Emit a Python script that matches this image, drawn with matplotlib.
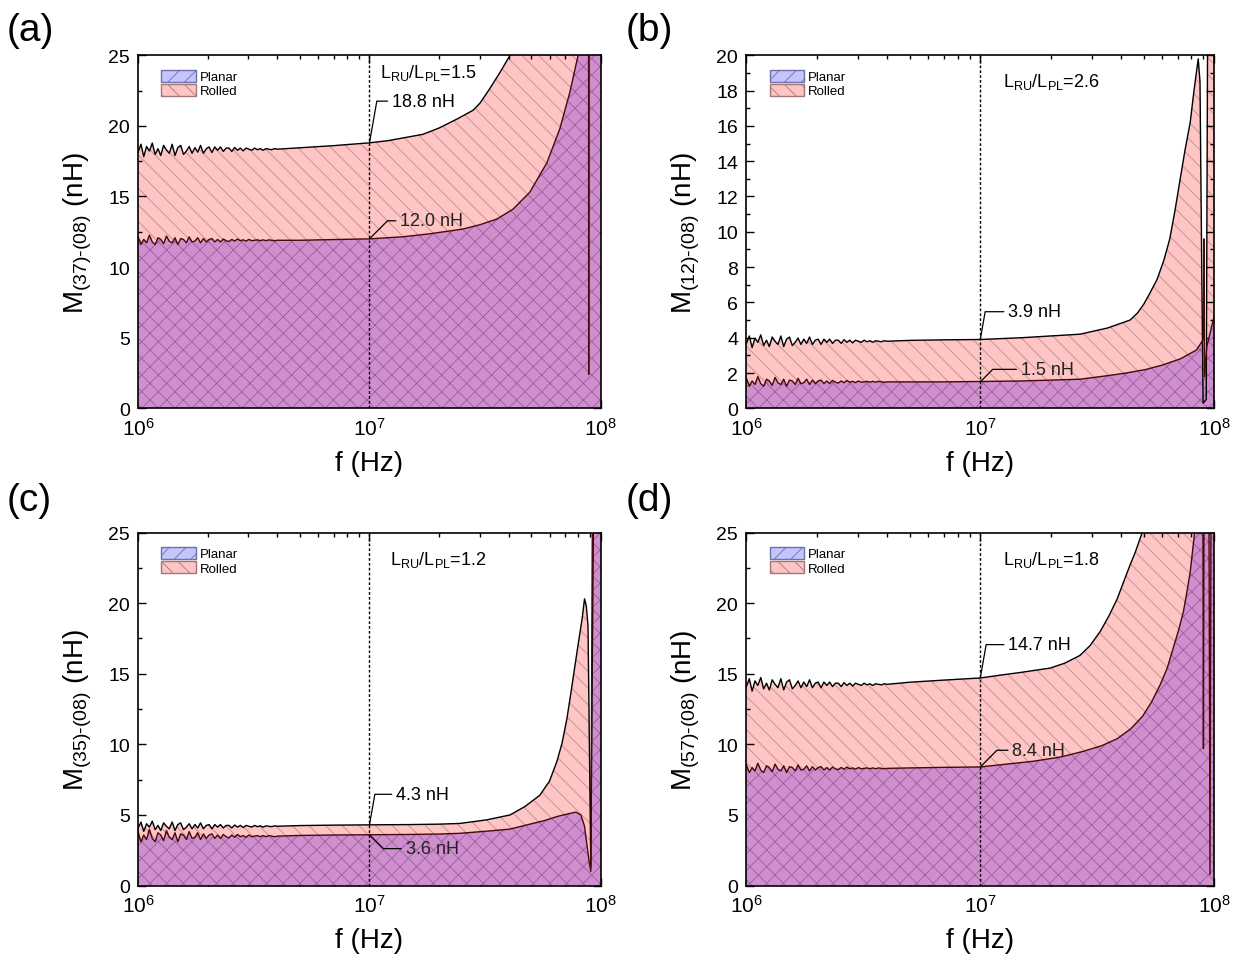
import matplotlib
matplotlib.use('Agg')
import matplotlib.pyplot as plt
from matplotlib.patches import Patch
from matplotlib.ticker import MultipleLocator, LogLocator, NullFormatter

plt.rcParams['font.family'] = ['Liberation Sans', 'DejaVu Sans']
plt.rcParams['mathtext.fontset'] = 'custom'
plt.rcParams['mathtext.rm'] = 'Liberation Sans'
plt.rcParams['mathtext.it'] = 'Liberation Sans:italic'
plt.rcParams['mathtext.default'] = 'regular'
plt.rcParams['hatch.linewidth'] = 0.6

# frequencies (MHz) of the noisy low-frequency part, shared by all curves
f_noise = [1.000, 1.029, 1.058, 1.088, 1.119, 1.152, 1.185, 1.219, 1.253, 1.289,
           1.326, 1.364, 1.404, 1.444, 1.485, 1.528, 1.572, 1.617, 1.663, 1.711,
           1.760, 1.810, 1.862, 1.916, 1.971, 2.027, 2.085, 2.145, 2.207, 2.270,
           2.335, 2.402, 2.471, 2.542, 2.615, 2.690, 2.767, 2.846, 2.928, 3.012,
           3.099, 3.187, 3.279, 3.373, 3.470, 3.569, 3.672, 3.777, 3.885, 3.997]

# (a) M(37)-(08)
a_rolled_noise = [18.14, 18.70, 17.82, 18.54, 18.22, 18.78, 17.98, 18.38, 17.90, 18.62,
                  18.30, 18.06, 18.70, 17.90, 18.46, 18.62, 17.98, 18.22, 18.54, 18.06,
                  18.46, 18.14, 18.62, 18.06, 18.38, 18.51, 18.11, 18.51, 18.27, 18.51,
                  18.19, 18.43, 18.43, 18.19, 18.47, 18.27, 18.43, 18.23, 18.43, 18.35,
                  18.27, 18.43, 18.31, 18.39, 18.27, 18.39, 18.35, 18.31, 18.39, 18.35]
a_rolled_f = [5, 7, 10, 12, 14, 17, 20, 24, 28, 30, 33, 36.7, 40.5, 46, 60, 100]
a_rolled_m = [18.45, 18.6, 18.8, 18.95, 19.15, 19.4, 19.85, 20.5, 21.1, 21.6, 22.6, 23.8, 25.0, 27, 31, 40]
a_planar_noise = [12.14, 11.60, 11.96, 11.72, 12.26, 11.78, 11.60, 12.08, 11.96, 11.66,
                  12.20, 11.84, 11.72, 12.08, 11.60, 12.02, 11.96, 11.72, 12.14, 11.78,
                  11.84, 12.08, 11.72, 12.02, 11.78, 11.96, 12.02, 11.78, 11.96, 11.78,
                  11.99, 11.87, 11.81, 11.96, 11.84, 11.99, 11.87, 11.93, 11.84, 11.96,
                  11.87, 11.90, 11.93, 11.87, 11.93, 11.87, 11.93, 11.90, 11.87, 11.90]
a_planar_f = [5, 7, 10, 14, 18, 22, 25.4, 30, 35.5, 41.7, 49.3, 58.5, 66.5, 73.5, 79.5,
              85, 88.5, 88.6, 88.8, 100]
a_planar_m = [11.9, 11.95, 12.0, 12.15, 12.35, 12.55, 12.7, 13.0, 13.4, 14.1, 15.3, 17.4, 19.8, 22.4, 24.9,
              28, 30, 2.4, 30, 30]

# (b) M(12)-(08)
b_rolled_noise = [3.68, 4.10, 3.44, 3.98, 3.74, 4.16, 3.56, 3.86, 3.50, 4.04,
                  3.80, 3.62, 4.10, 3.50, 3.92, 4.04, 3.56, 3.74, 3.98, 3.62,
                  3.92, 3.68, 4.04, 3.62, 3.86, 3.92, 3.62, 3.92, 3.74, 3.92,
                  3.68, 3.86, 3.86, 3.68, 3.89, 3.74, 3.86, 3.71, 3.86, 3.80,
                  3.74, 3.86, 3.77, 3.83, 3.74, 3.83, 3.80, 3.77, 3.83, 3.80]
b_rolled_f = [5, 7, 10, 15, 20, 26.7, 35, 43.7, 47, 50, 53, 57, 61, 64.6, 68, 71.6, 75, 79, 82, 85.5,
              87, 88.5, 89.7, 92.5, 94, 100]
b_rolled_m = [3.85, 3.88, 3.9, 4.0, 4.1, 4.2, 4.55, 5.0, 5.4, 5.9, 6.5, 7.3, 8.4, 9.6, 11.2, 13.0, 14.6, 16.2, 18.0, 19.8,
              18.5, 8.0, 0.3, 0.5, 25, 25]
b_planar_noise = [1.70, 1.25, 1.55, 1.35, 1.80, 1.40, 1.25, 1.65, 1.55, 1.30,
                  1.75, 1.45, 1.35, 1.65, 1.25, 1.60, 1.55, 1.35, 1.70, 1.40,
                  1.45, 1.65, 1.35, 1.60, 1.40, 1.55, 1.60, 1.40, 1.55, 1.40,
                  1.58, 1.48, 1.43, 1.55, 1.45, 1.58, 1.48, 1.53, 1.45, 1.55,
                  1.48, 1.50, 1.53, 1.48, 1.53, 1.48, 1.53, 1.50, 1.48, 1.50]
b_planar_f = [5, 7, 10, 15, 20, 26.7, 35, 42, 51, 60, 71.6, 84, 89.8, 90.5, 91, 93, 100]
b_planar_m = [1.5, 1.5, 1.52, 1.55, 1.6, 1.65, 1.85, 2.0, 2.2, 2.45, 2.8, 3.3, 3.9, 9.6, 1.8, 3.5, 5.2]

# (c) M(35)-(08)
c_rolled_noise = [4.08, 4.50, 3.84, 4.38, 4.14, 4.56, 3.96, 4.26, 3.90, 4.44,
                  4.20, 4.02, 4.50, 3.90, 4.32, 4.44, 3.96, 4.14, 4.38, 4.02,
                  4.32, 4.08, 4.44, 4.02, 4.26, 4.32, 4.02, 4.32, 4.14, 4.32,
                  4.08, 4.26, 4.26, 4.08, 4.29, 4.14, 4.26, 4.11, 4.26, 4.20,
                  4.14, 4.26, 4.17, 4.23, 4.14, 4.23, 4.20, 4.17, 4.23, 4.20]
c_rolled_f = [5, 7, 10, 15, 20, 24.6, 32, 40.5, 47, 54.5, 60, 64.6, 68, 71.3, 74, 77, 80, 83, 85,
              86.5, 88, 90.5, 93, 100]
c_rolled_m = [4.25, 4.28, 4.3, 4.32, 4.35, 4.4, 4.65, 5.0, 5.6, 6.4, 7.4, 8.8, 10.1, 11.8, 13.5, 15.4, 17.2, 18.9, 20.3,
              19.8, 18.4, 1.3, 28, 28]
c_planar_noise = [3.82, 3.10, 3.58, 3.26, 3.98, 3.34, 3.10, 3.74, 3.58, 3.18,
                  3.90, 3.42, 3.26, 3.74, 3.10, 3.66, 3.58, 3.26, 3.82, 3.34,
                  3.42, 3.74, 3.26, 3.66, 3.34, 3.58, 3.66, 3.34, 3.58, 3.34,
                  3.62, 3.46, 3.38, 3.58, 3.42, 3.62, 3.46, 3.54, 3.42, 3.58,
                  3.46, 3.50, 3.54, 3.46, 3.54, 3.46, 3.54, 3.50, 3.46, 3.50]
c_planar_f = [5, 7, 10, 15, 20, 24.6, 32, 40.5, 48, 57, 65, 73, 78, 82, 85, 89, 90.5, 92, 100]
c_planar_m = [3.55, 3.58, 3.6, 3.62, 3.65, 3.7, 3.85, 4.0, 4.3, 4.6, 4.9, 5.1, 5.2, 5.0, 4.2, 1.7, 1.0, 28, 28]

# (d) M(57)-(08)
d_rolled_noise = [14.09, 14.65, 13.77, 14.49, 14.17, 14.73, 13.93, 14.33, 13.85, 14.57,
                  14.25, 14.01, 14.65, 13.85, 14.41, 14.57, 13.93, 14.17, 14.49, 14.01,
                  14.41, 14.09, 14.57, 14.01, 14.33, 14.41, 14.01, 14.41, 14.17, 14.41,
                  14.09, 14.33, 14.33, 14.09, 14.37, 14.17, 14.33, 14.13, 14.33, 14.25,
                  14.17, 14.33, 14.21, 14.29, 14.17, 14.29, 14.25, 14.21, 14.29, 14.25]
d_rolled_f = [5, 7, 10, 12.2, 15, 19.9, 23, 26.7, 29.5, 32.6, 35.5, 38.5, 41, 43.7, 46, 48.3, 50.5, 55, 100]
d_rolled_m = [14.4, 14.55, 14.7, 14.9, 15.1, 15.4, 15.75, 16.3, 17.0, 18.0, 19.1, 20.3, 21.5, 22.7, 23.6, 24.6, 25.5, 27, 35]
d_planar_noise = [8.54, 8.00, 8.36, 8.12, 8.66, 8.18, 8.00, 8.48, 8.36, 8.06,
                  8.60, 8.24, 8.12, 8.48, 8.00, 8.42, 8.36, 8.12, 8.54, 8.18,
                  8.24, 8.48, 8.12, 8.42, 8.18, 8.36, 8.42, 8.18, 8.36, 8.18,
                  8.39, 8.27, 8.21, 8.36, 8.24, 8.39, 8.27, 8.33, 8.24, 8.36,
                  8.27, 8.30, 8.33, 8.27, 8.33, 8.27, 8.33, 8.30, 8.27, 8.30]
d_planar_f = [5, 7, 10, 16.8, 22, 27.5, 33, 38.5, 44, 49.5, 54, 58.7, 63, 66.8, 70.5, 73.9, 76.5, 79, 82,
              86, 89.5, 90, 90.5, 95, 96, 97, 100]
d_planar_m = [8.33, 8.37, 8.4, 8.8, 9.1, 9.5, 9.9, 10.4, 11.1, 12.0, 13.0, 14.2, 15.4, 16.8, 18.1, 19.4, 20.8, 22.2, 24.6,
              28, 28, 9.7, 28, 28, 0.8, 28, 28]

labels = ['(a)', '(b)', '(c)', '(d)']
ylabels = ['(37)', '(12)', '(35)', '(57)']
ratios = ['1.5', '2.6', '1.2', '1.8']
ymax = [25, 20, 25, 25]
rolled_at_10M = [18.8, 3.9, 4.3, 14.7]
planar_at_10M = [12.0, 1.5, 3.6, 8.4]

curves = [
    (a_rolled_noise, a_rolled_f, a_rolled_m, a_planar_noise, a_planar_f, a_planar_m),
    (b_rolled_noise, b_rolled_f, b_rolled_m, b_planar_noise, b_planar_f, b_planar_m),
    (c_rolled_noise, c_rolled_f, c_rolled_m, c_planar_noise, c_planar_f, c_planar_m),
    (d_rolled_noise, d_rolled_f, d_rolled_m, d_planar_noise, d_planar_f, d_planar_m),
]

# axes rectangles in figure fraction, and offsets (points) of the value labels
positions = [(0.111, 0.578, 0.372, 0.364), (0.600, 0.578, 0.376, 0.364),
             (0.111, 0.086, 0.372, 0.364), (0.600, 0.086, 0.376, 0.364)]
letter_pos = [(0.005, 0.968), (0.503, 0.968), (0.005, 0.484), (0.503, 0.484)]
ratio_pos = [(0.523, 0.952), (0.549, 0.926), (0.544, 0.924), (0.549, 0.926)]
rolled_off = [(16, 30), (20, 20), (19, 22), (20, 24)]
planar_off = [(22, 13), (29, 9), (26, -10), (23, 12)]
planar_angle = [45, 45, -45, 45]

pink = '#ffc4c4'
purple = '#cf8fcf'

fig = plt.figure(figsize=(12.44, 9.70), dpi=100)

for i in range(4):
    ax = fig.add_axes(positions[i])
    rn, rf, rm, pn, pf, pm = curves[i]
    fr = [v * 1e6 for v in f_noise + rf]
    mr = rn + rm
    fp = [v * 1e6 for v in f_noise + pf]
    mp = pn + pm

    ax.fill_between(fr, 0, mr, facecolor=pink, edgecolor='#b89090', hatch='\\\\', lw=0, zorder=1)
    ax.fill_between(fp, 0, mp, facecolor=purple, edgecolor='#9a5e9a', hatch='xx', lw=0, zorder=2)
    ax.plot(fr, mr, color='black', lw=1.0, zorder=4)
    ax.plot(fp, mp, color='#4a0808', lw=1.0, zorder=4)
    ax.axvline(1e7, color='black', lw=1.0, ls=(0, (2, 1.5)), zorder=5)

    ax.set_xscale('log')
    ax.set_xlim(1e6, 1e8)
    ax.set_ylim(0, ymax[i])
    ax.set_xticks([1e6, 1e7, 1e8])
    ax.set_xticklabels([r'$10^6$', r'$10^7$', r'$10^8$'])
    ax.xaxis.set_minor_locator(LogLocator(base=10, subs=range(2, 10)))
    ax.xaxis.set_minor_formatter(NullFormatter())
    if ymax[i] == 20:
        ax.yaxis.set_major_locator(MultipleLocator(2))
        ax.yaxis.set_minor_locator(MultipleLocator(1))
    else:
        ax.yaxis.set_major_locator(MultipleLocator(5))
        ax.yaxis.set_minor_locator(MultipleLocator(2.5))
    ax.tick_params(which='both', direction='in', top=True, right=True, labelsize=14, width=1)
    ax.tick_params(axis='x', labelsize=15)
    ax.tick_params(which='major', length=6, pad=6)
    ax.tick_params(which='minor', length=3)
    for s in ax.spines.values():
        s.set_linewidth(1.2)
        s.set_zorder(6)

    ax.set_xlabel('f (Hz)', fontsize=20, labelpad=8)
    ax.set_ylabel(r'$M_{' + ylabels[i] + r'\text{-}(08)}$ (nH)', fontsize=20, labelpad=10)

    ax.text(ratio_pos[i][0], ratio_pos[i][1], r'$L_{RU}/L_{PL}$=' + ratios[i],
            transform=ax.transAxes, fontsize=13, va='center', zorder=7)

    ax.annotate(f'{rolled_at_10M[i]:.1f} nH', xy=(1e7, rolled_at_10M[i]),
                xytext=rolled_off[i], textcoords='offset points', fontsize=13,
                va='center', ha='left', zorder=7,
                arrowprops=dict(arrowstyle='-', lw=0.9, shrinkA=1, shrinkB=0,
                                connectionstyle='angle,angleA=0,angleB=80,rad=0'))
    ax.annotate(f'{planar_at_10M[i]:.1f} nH', xy=(1e7, planar_at_10M[i]),
                xytext=planar_off[i], textcoords='offset points', fontsize=13,
                va='center', ha='left', zorder=7, color='#222222',
                arrowprops=dict(arrowstyle='-', lw=0.9, shrinkA=1, shrinkB=0,
                                connectionstyle=f'angle,angleA=0,angleB={planar_angle[i]},rad=0'))

    handles = [Patch(facecolor='#c4c4ff', edgecolor='#7070a8', hatch='//', label='Planar'),
               Patch(facecolor=pink, edgecolor='#a07878', hatch='\\\\', label='Rolled')]
    ax.legend(handles=handles, loc='upper left', bbox_to_anchor=(0.03, 0.985),
              frameon=False, fontsize=9.5, handlelength=2.6, handleheight=1.0,
              labelspacing=0.05, handletextpad=0.3, borderpad=0.2)

    fig.text(letter_pos[i][0], letter_pos[i][1], labels[i], fontsize=28, va='center', ha='left')

fig.savefig('out.png', dpi=100)
